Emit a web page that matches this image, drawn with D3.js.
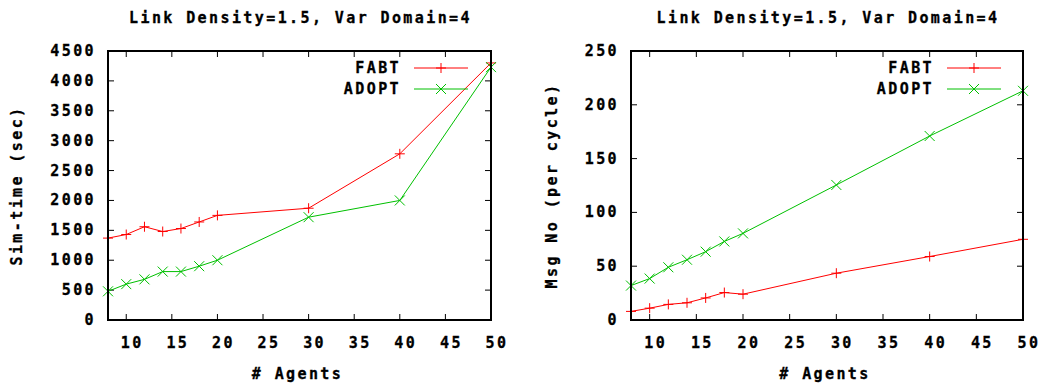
<!DOCTYPE html>
<html>
<head>
<meta charset="utf-8">
<script src="https://cdn.jsdelivr.net/npm/d3@7"></script>
<style>
  html, body { margin: 0; padding: 0; background: #fff; }
  text { font-family: "DejaVu Sans Mono", monospace; font-weight: bold; font-size: 15px; letter-spacing: 2.4px; fill: #000; stroke: #000; stroke-width: 0.3px; }
</style>
</head>
<body>
<div id="chart"></div>
<script>
// values
const agents = [8, 10, 12, 14, 16, 18, 20, 30, 40, 50];
const simTimeFabt = [1370, 1430, 1560, 1480, 1530, 1640, 1750, 1870, 2780, 4300];
const simTimeAdopt = [480, 600, 680, 810, 810, 900, 1000, 1720, 2000, 4230];
const msgFabt = [8, 11, 14.5, 16, 20.5, 25.5, 24, 43.5, 59, 75];
const msgAdopt = [32, 38.5, 49, 56, 63.5, 73, 80.5, 125.5, 171, 213];

const agentTicks = [10, 15, 20, 25, 30, 35, 40, 45, 50];
const simTimeTicks = [0, 500, 1000, 1500, 2000, 2500, 3000, 3500, 4000, 4500];
const msgTicks = [0, 50, 100, 150, 200, 250];
const seriesNames = ['FABT', 'ADOPT'];
const seriesColors = ['#ff0000', '#00c000'];
const chartTitle = 'Link Density=1.5, Var Domain=4';

const width = 1047, height = 385;

const svg = d3.select('#chart')
  .append('svg')
    .attr('width', width)
    .attr('height', height);

// draw a "+" or "x" point marker
function marker(g, kind, x, y, color) {
  const s = 5;
  const segs = kind === 'plus'
    ? [[x - s, y, x + s, y], [x, y - s, x, y + s]]
    : [[x - s, y - s, x + s, y + s], [x - s, y + s, x + s, y - s]];
  segs.forEach(d => {
    g.append('line')
      .attr('x1', d[0]).attr('y1', d[1])
      .attr('x2', d[2]).attr('y2', d[3])
      .attr('stroke', color)
      .attr('stroke-width', 1);
  });
}

function drawPanel(opts) {
  const {left, right, top, bottom, yMax, yTicks, yTitle, yTitleX, series, legendX} = opts;

  const x = d3.scaleLinear().domain([8, 50]).range([left, right]);
  const y = d3.scaleLinear().domain([0, yMax]).range([bottom, top]);
  const g = svg.append('g');

  // title
  g.append('text')
    .attr('x', (left + right) / 2 + 1)
    .attr('y', 23)
    .attr('text-anchor', 'middle')
    .text(chartTitle);

  // ticks, mirrored on all sides
  const tickLen = 6;
  const ticks = g.append('g').attr('stroke', '#000').attr('stroke-width', 1);
  agentTicks.forEach(t => {
    ticks.append('line').attr('x1', x(t)).attr('x2', x(t)).attr('y1', bottom).attr('y2', bottom - tickLen);
    ticks.append('line').attr('x1', x(t)).attr('x2', x(t)).attr('y1', top).attr('y2', top + tickLen);
  });
  yTicks.forEach(t => {
    ticks.append('line').attr('x1', left).attr('x2', left + tickLen).attr('y1', y(t)).attr('y2', y(t));
    ticks.append('line').attr('x1', right).attr('x2', right - tickLen).attr('y1', y(t)).attr('y2', y(t));
  });

  // tick labels
  g.append('g').selectAll('text')
    .data(agentTicks)
    .join('text')
      .attr('x', d => x(d) + 6)
      .attr('y', 348)
      .attr('text-anchor', 'middle')
      .text(d => d);

  g.append('g').selectAll('text')
    .data(yTicks)
    .join('text')
      .attr('x', left - 12)
      .attr('y', d => y(d) + 5)
      .attr('text-anchor', 'end')
      .text(d => d);

  // axis titles
  g.append('text')
    .attr('x', (left + right) / 2 - 2)
    .attr('y', 379)
    .attr('text-anchor', 'middle')
    .text('# Agents');

  g.append('text')
    .attr('transform', `translate(${yTitleX},${(top + bottom) / 2}) rotate(-90)`)
    .attr('text-anchor', 'middle')
    .text(yTitle);

  // series
  const line = d3.line().x(d => x(d[0])).y(d => y(d[1]));
  series.forEach((vals, i) => {
    const pts = agents.map((a, j) => [a, vals[j]]);
    g.append('path')
      .datum(pts)
      .attr('fill', 'none')
      .attr('stroke', seriesColors[i])
      .attr('stroke-width', 1)
      .attr('d', line);
    pts.forEach(p => marker(g, i === 0 ? 'plus' : 'cross', x(p[0]), y(p[1]), seriesColors[i]));
  });

  // legend
  seriesNames.forEach((name, i) => {
    const ly = 68 + i * 21;
    g.append('text')
      .attr('x', legendX + 2)
      .attr('y', ly + 5)
      .attr('text-anchor', 'end')
      .text(name);
    g.append('line')
      .attr('x1', legendX + 15).attr('x2', legendX + 69)
      .attr('y1', ly).attr('y2', ly)
      .attr('stroke', seriesColors[i])
      .attr('stroke-width', 1);
    marker(g, i === 0 ? 'plus' : 'cross', legendX + 42, ly, seriesColors[i]);
  });

  // frame
  g.append('rect')
    .attr('x', left).attr('y', top)
    .attr('width', right - left).attr('height', bottom - top)
    .attr('fill', 'none')
    .attr('stroke', '#000')
    .attr('stroke-width', 2);
}

drawPanel({
  left: 108, right: 491, top: 51, bottom: 320,
  yMax: 4500, yTicks: simTimeTicks, yTitle: 'Sim-time (sec)', yTitleX: 22,
  series: [simTimeFabt, simTimeAdopt], legendX: 399
});

drawPanel({
  left: 631, right: 1023, top: 51, bottom: 320,
  yMax: 250, yTicks: msgTicks, yTitle: 'Msg No (per cycle)', yTitleX: 557,
  series: [msgFabt, msgAdopt], legendX: 932
});
</script>
</body>
</html>
